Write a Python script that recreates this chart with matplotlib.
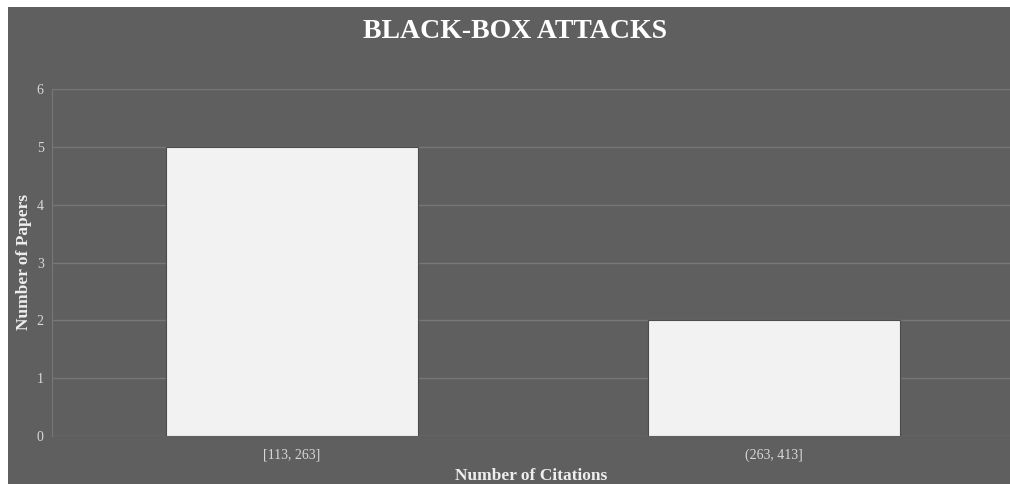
import matplotlib.pyplot as plt
from matplotlib.patches import Rectangle

# data
categories = ["[113, 263]", "(263, 413]"]
papers = [5, 2]
yticks = [0, 1, 2, 3, 4, 5, 6]

bg = "#5f5f5f"
grid_col = "#777777"

plt.rcParams["font.family"] = ["Liberation Serif", "DejaVu Serif"]

fig = plt.figure(figsize=(10.10, 4.84), dpi=100, facecolor="white")
# gray panel (white strip on the left and top, as in the source)
fig.patches.append(Rectangle((8 / 1010, 0), 1, 1 - 7 / 484,
                             transform=fig.transFigure, facecolor=bg,
                             edgecolor="none", zorder=-10))

ax = fig.add_axes([52 / 1010, 1 - 436 / 484, (1010 - 52) / 1010, (436 - 89) / 484])
ax.set_facecolor(bg)

x = list(range(len(categories)))
ax.bar(x, papers, width=0.523, color="#f2f2f2", edgecolor="#4c4c4c",
       linewidth=0.8, zorder=3)

ax.set_xlim(-0.498, 1.49)
ax.set_ylim(0, 6)
ax.set_yticks(yticks)
ax.set_xticks(x)
ax.set_xticklabels(categories)

ax.grid(True, axis="y", color=grid_col, linewidth=1.0, zorder=0)
ax.set_axisbelow(True)
for s in ["top", "right", "bottom"]:
    ax.spines[s].set_visible(False)
ax.spines["left"].set_color(grid_col)
ax.spines["left"].set_linewidth(0.8)

ax.tick_params(axis="both", length=0, labelsize=10, colors="#d8d8d8")
ax.tick_params(axis="x", pad=9)
ax.tick_params(axis="y", pad=6)

ax.set_xlabel("Number of Citations", fontsize=12.5, fontweight="bold",
              color="#eeeeee", labelpad=4)
ax.set_ylabel("Number of Papers", fontsize=12.5, fontweight="bold",
              color="#eeeeee", labelpad=3)

fig.text(515 / 1010, 1 - 32 / 484, "BLACK-BOX ATTACKS", fontsize=20,
         fontweight="bold", color="white", ha="center", va="center")

fig.savefig("out.png", dpi=100, facecolor=fig.get_facecolor())
